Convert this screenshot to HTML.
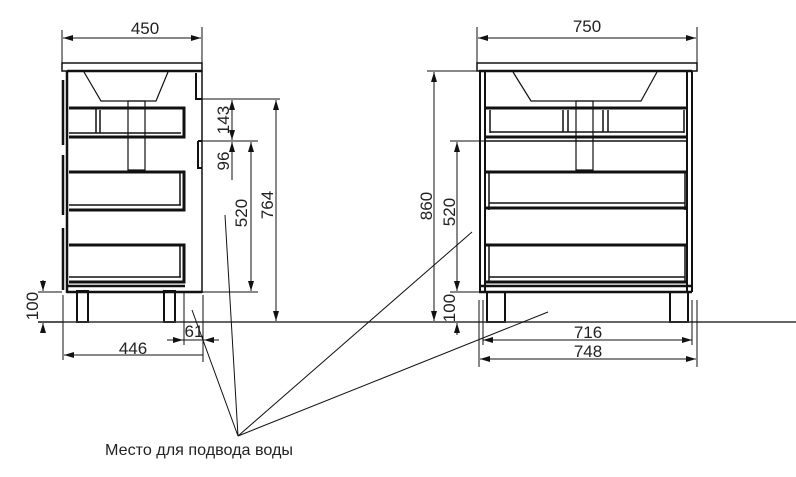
<!DOCTYPE html>
<html><head><meta charset="utf-8"><style>
html,body{margin:0;padding:0;background:#fff;}
svg{display:block}
text{font-family:"Liberation Sans",sans-serif;fill:#222}
</style></head><body>
<svg width="796" height="477" viewBox="0 0 796 477" xmlns="http://www.w3.org/2000/svg">
<defs>
<marker id="a" viewBox="0 0 10 6" refX="10" refY="3" markerWidth="10" markerHeight="6" orient="auto-start-reverse" markerUnits="userSpaceOnUse"><path d="M0,0 L10,3 L0,6z" fill="#111"/></marker>
</defs>
<g stroke="#111" fill="none">
<rect x="62" y="63" width="140" height="8" stroke-width="1.5"/>
<line x1="67" y1="71" x2="67" y2="293" stroke-width="2.5"/>
<line x1="67" y1="71" x2="202" y2="71" stroke-width="2.5"/>
<line x1="202" y1="71" x2="202" y2="293" stroke-width="1.5"/>
<path d="M63,80 V145 M63,155 V215 M63,228 V290" stroke-width="2.5"/>
<path d="M84,72 L101,101 H156 L168,72" stroke-width="1.2"/>
<path d="M196,73 V99 H202 M198,141 V168 H202 M198,141 H202" stroke-width="2"/>
<rect x="128" y="101" width="17" height="69" stroke-width="1.2"/>
<path d="M69,108 H184 V137 H69" stroke-width="3"/>
<path d="M69,133 H181 M96,108 V133 M100,110 V133" stroke-width="1.5"/>
<path d="M69,172 H184 V210 H69" stroke-width="3"/>
<path d="M69,205 H181 M180,172 V205" stroke-width="1.5"/>
<path d="M69,245 H184 V282 H69" stroke-width="3"/>
<path d="M69,277 H181 M180,245 V277" stroke-width="1.5"/>
<path d="M67,286 H185 M67,292 H202" stroke-width="2.5"/>
<rect x="77" y="291" width="11" height="31" stroke-width="2"/>
<rect x="164" y="291" width="11" height="31" stroke-width="2"/>
<rect x="477" y="63" width="220" height="8" stroke-width="1.5"/>
<path d="M480,71 V292 M485,71 V292 M687,71 V292 M692,71 V292" stroke-width="2"/>
<line x1="479" y1="71" x2="692" y2="71" stroke-width="2.5"/>
<path d="M513,72 L531,101 H641 L657,72" stroke-width="1.2"/>
<rect x="576" y="101" width="17" height="69" stroke-width="1.2"/>
<path d="M486,108 H688 M486,137 H688" stroke-width="3"/>
<path d="M490,110 V133 M684,110 V133 M563,110 V132 M568,110 V132 M603,110 V132 M608,110 V132 M490,132 H684" stroke-width="1.5"/>
<path d="M486,141 H688" stroke-width="1.5"/>
<path d="M486,172 H688 M486,208 H688" stroke-width="3"/>
<path d="M489,172 V210 M685,172 V210 M489,203 H685" stroke-width="1.5"/>
<path d="M486,245 H688 M486,282 H688" stroke-width="3"/>
<path d="M489,245 V282 M685,245 V282 M489,277 H685" stroke-width="1.5"/>
<path d="M479,286 H692 M479,292 H692" stroke-width="2.5"/>
<rect x="487" y="292" width="18" height="30" stroke-width="2"/>
<rect x="670" y="292" width="18" height="30" stroke-width="2"/>
<line x1="38" y1="322" x2="796" y2="322" stroke="#333" stroke-width="1.5"/>
<g stroke-width="1">
<path d="M62,30 V63 M202,27 V63"/>
<line x1="63" y1="38" x2="201" y2="38" marker-start="url(#a)" marker-end="url(#a)"/>
<path d="M202,99 H280 M198,141 H258 M202,292 H258 M38,292 H62 M38,322 H62"/>
<line x1="232" y1="100" x2="232" y2="140" marker-start="url(#a)" marker-end="url(#a)"/>
<line x1="232" y1="142" x2="232" y2="180" marker-start="url(#a)"/>
<line x1="251" y1="142" x2="251" y2="291" marker-start="url(#a)" marker-end="url(#a)"/>
<line x1="276" y1="100" x2="276" y2="321" marker-start="url(#a)" marker-end="url(#a)"/>
<line x1="43" y1="280" x2="43" y2="291" marker-end="url(#a)"/>
<line x1="43" y1="333" x2="43" y2="323" marker-end="url(#a)"/>
<path d="M63,295 V360 M203,295 V362 M184,292 V345"/>
<line x1="64" y1="355" x2="203" y2="355" marker-start="url(#a)"/>
<line x1="167" y1="340" x2="183" y2="340" marker-end="url(#a)"/>
<line x1="219" y1="340" x2="204" y2="340" marker-end="url(#a)"/>
<line x1="183" y1="340" x2="204" y2="340"/>
<path d="M477,27 V63 M697,27 V63"/>
<line x1="478" y1="38" x2="696" y2="38" marker-start="url(#a)" marker-end="url(#a)"/>
<path d="M427,71 H479 M450,141 H485 M450,292 H479"/>
<line x1="434" y1="72" x2="434" y2="321" marker-start="url(#a)" marker-end="url(#a)"/>
<line x1="457" y1="142" x2="457" y2="291" marker-start="url(#a)" marker-end="url(#a)"/>
<line x1="457" y1="335" x2="457" y2="323" marker-end="url(#a)"/>
<path d="M479,300 V367 M697,300 V367 M692,300 V345 M483,300 V345"/>
<line x1="483" y1="340" x2="692" y2="340" marker-start="url(#a)" marker-end="url(#a)"/>
<line x1="480" y1="359" x2="696" y2="359" marker-start="url(#a)" marker-end="url(#a)"/>
<path d="M238,436 L192,310 M238,436 L225,215 M238,436 L472,232 M238,436 L548,312"/>
</g>
</g>
<g font-size="17">
<text x="145" y="34" text-anchor="middle">450</text>
<text x="587" y="32" text-anchor="middle">750</text>
<text x="133" y="354" text-anchor="middle">446</text>
<text x="194" y="337" text-anchor="middle">61</text>
<text x="588" y="338" text-anchor="middle">716</text>
<text x="588" y="357" text-anchor="middle">748</text>
<text transform="translate(229,120) rotate(-90)" text-anchor="middle">143</text>
<text transform="translate(229,161) rotate(-90)" text-anchor="middle">96</text>
<text transform="translate(247,213) rotate(-90)" text-anchor="middle">520</text>
<text transform="translate(273,205) rotate(-90)" text-anchor="middle">764</text>
<text transform="translate(38,306) rotate(-90)" text-anchor="middle">100</text>
<text transform="translate(432,206) rotate(-90)" text-anchor="middle">860</text>
<text transform="translate(455,212) rotate(-90)" text-anchor="middle">520</text>
<text transform="translate(455,308) rotate(-90)" text-anchor="middle">100</text>
</g>
<text x="105" y="455" font-size="16" textLength="188" lengthAdjust="spacingAndGlyphs">Место для подвода воды</text>
</svg>
</body></html>
